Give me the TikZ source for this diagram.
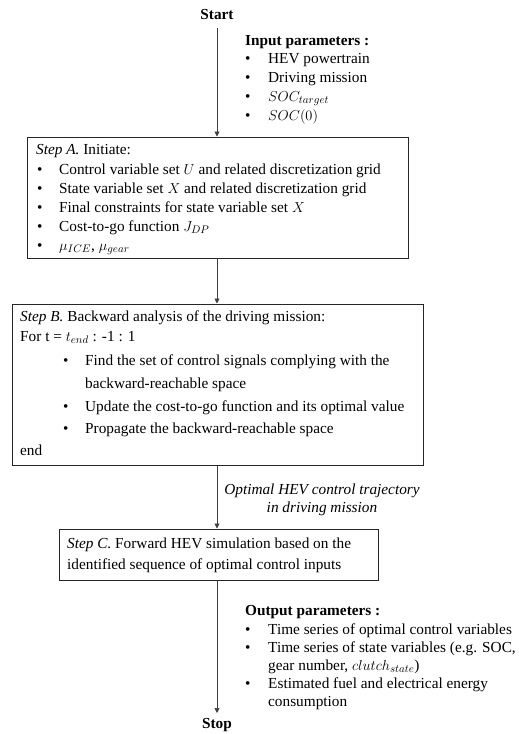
\documentclass[tikz,border=0pt]{standalone}
\usepackage{fontspec}
\setmainfont{Liberation Serif}
\usetikzlibrary{arrows.meta}
\begin{document}
\begin{tikzpicture}[x=1pt,y=-1pt,
  every node/.style={font=\fontsize{15.3}{18}\selectfont, inner sep=0pt},
  box/.style={draw=black!85, line width=1pt, rectangle},
  txt/.style={anchor=mid west},
  bul/.style={anchor=mid west},
  flow/.style={draw=black!75, line width=0.7pt, -{Triangle[width=5pt,length=5pt]}},
  title/.style={font=\fontsize{15.3}{18}\selectfont\bfseries}]
\useasboundingbox (0,0) rectangle (519,734);
% terminals
\node[title] (start) at (217,15) {Start};
\node[title] (stop) at (217,725) {Stop};
% boxes
\node[box, minimum width=381pt, minimum height=121pt] (boxA) at (217.5,197.5) {};
\node[box, minimum width=411pt, minimum height=161pt] (boxB) at (217.5,384.5) {};
\node[box, minimum width=319pt, minimum height=51pt] (boxC) at (218.5,554.5) {};
% input parameters
\node[title, txt] (inT) at (245,43) {Input parameters :};
\foreach \y/\t [count=\i] in {61/HEV powertrain, 80/Driving mission, 99/{$SOC_{target}$}, 118/{$SOC(0)$}}{
  \node[bul] (inb\i) at (245,\y) {•};
  \node[txt] (in\i) at (268,\y) {\t};
}
% step A
\node[txt] (aT) at (36,152) {\textit{Step A.} Initiate:};
\foreach \y/\t [count=\i] in {172/{Control variable set $U$ and related discretization grid},
  191/{State variable set $X$ and related discretization grid},
  210/{Final constraints for state variable set $X$},
  229/{Cost-to-go function $J_{DP}$},
  248/{$\mu_{ICE}$, $\mu_{gear}$}}{
  \node[bul] (ab\i) at (37,\y) {•};
  \node[txt] (a\i) at (59,\y) {\t};
}
% step B
\node[txt] (bT) at (20,319) {\textit{Step B.} Backward analysis of the driving mission:};
\node[txt] (bFor) at (20,339) {For t = $t_{end}$ : -1 : 1};
\node[bul] (bb1) at (63,363) {•};
\node[txt] (b1) at (85,363) {Find the set of control signals complying with the};
\node[txt] (b1b) at (85,386) {backward-reachable space};
\node[bul] (bb2) at (63,409) {•};
\node[txt] (b2) at (85,409) {Update the cost-to-go function and its optimal value};
\node[bul] (bb3) at (63,431) {•};
\node[txt] (b3) at (85,431) {Propagate the backward-reachable space};
\node[txt] (bEnd) at (20,453) {end};
% label
\node[font=\fontsize{15.3}{18}\selectfont\itshape, align=center] (lab) at (322,500) {Optimal HEV control trajectory\\[0pt]in driving mission};
% step C
\node[txt] (cT) at (67,546) {\textit{Step C.} Forward HEV simulation based on the};
\node[txt] (c2) at (67,567) {identified sequence of optimal control inputs};
% output
\node[title, txt] (outT) at (245,613) {Output parameters :};
\node[bul] (ob1) at (245,632) {•};
\node[txt] (o1) at (268,632) {Time series of optimal control variables};
\node[bul] (ob2) at (245,650) {•};
\node[txt] (o2) at (268,650) {Time series of state variables (e.g. SOC,};
\node[txt] (o2b) at (268,668) {gear number, $clutch_{state}$)};
\node[bul] (ob3) at (245,686) {•};
\node[txt] (o3) at (268,686) {Estimated fuel and electrical energy};
\node[txt] (o3b) at (268,704) {consumption};
% arrows
\coordinate (s0) at (217,28);
\draw[flow] (s0) -- (boxA.north -| s0);
\draw[flow] (boxA.south -| s0) -- (boxB.north -| s0);
\draw[flow] (boxB.south -| s0) -- (boxC.north -| s0);
\coordinate (s1) at (217,713);
\draw[flow] (boxC.south -| s0) -- (s1);
\end{tikzpicture}
\end{document}
